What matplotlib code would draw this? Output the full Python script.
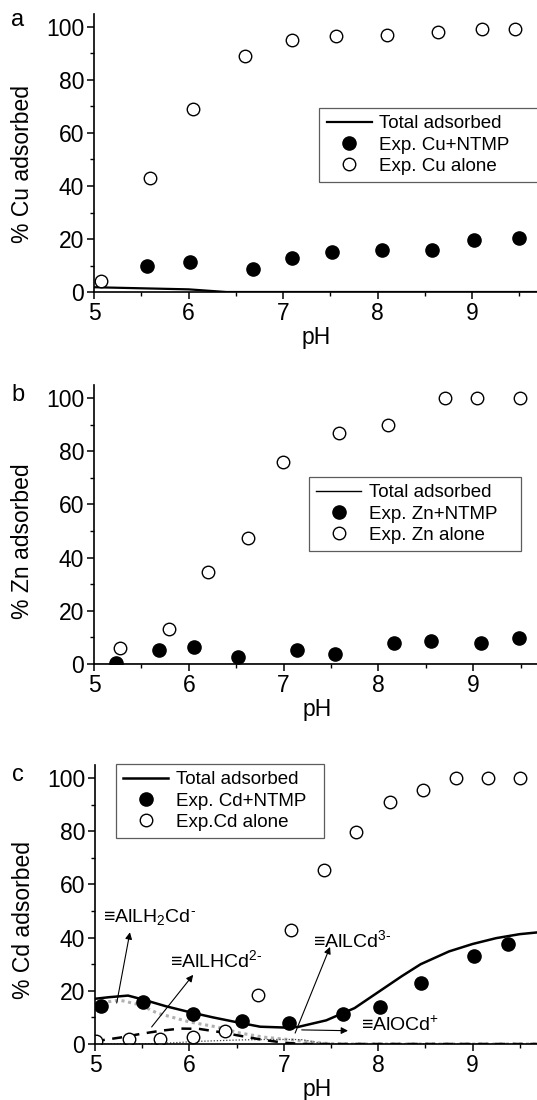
import matplotlib
matplotlib.use("Agg")
import matplotlib.pyplot as plt
from matplotlib.ticker import MultipleLocator

plt.rcParams['font.family'] = ['Liberation Sans', 'DejaVu Sans']
plt.rcParams['mathtext.fontset'] = 'custom'
plt.rcParams['mathtext.rm'] = 'Liberation Sans'
plt.rcParams['mathtext.it'] = 'Liberation Sans:italic'
plt.rcParams['mathtext.bf'] = 'Liberation Sans:bold'
plt.rcParams['mathtext.default'] = 'regular'

# ---- Panel a: Cu ----
cu_alone_ph = [5.07, 5.59, 6.05, 6.60, 7.10, 7.56, 8.10, 8.64, 9.11, 9.46]
cu_alone = [4, 43, 69, 89, 95.2, 96.6, 97, 98.1, 99.1, 99.1]
cu_ntmp_ph = [5.56, 6.02, 6.68, 7.09, 7.52, 8.05, 8.58, 9.02, 9.50]
cu_ntmp = [9.8, 11.2, 8.8, 13, 15, 15.7, 15.7, 19.5, 20.5]
cu_tot_ph = [5.0, 5.5, 6.0, 6.2, 6.4, 9.7]
cu_tot = [1.8, 1.4, 1.0, 0.5, 0.0, 0.0]

# ---- Panel b: Zn ----
zn_alone_ph = [5.27, 5.79, 6.20, 6.62, 6.99, 7.58, 8.10, 8.70, 9.04, 9.49]
zn_alone = [6.1, 13, 34.5, 47.5, 75.8, 87, 90, 100, 100, 100]
zn_ntmp_ph = [5.23, 5.69, 6.05, 6.52, 7.14, 7.54, 8.16, 8.55, 9.08, 9.48]
zn_ntmp = [0.3, 5.3, 6.3, 2.8, 5.3, 3.6, 8.0, 8.8, 7.9, 9.6]
zn_tot_ph = [5.0, 9.7]
zn_tot = [0.0, 0.0]

# ---- Panel c: Cd ----
cd_alone_ph = [5.01, 5.36, 5.69, 6.04, 6.38, 6.73, 7.08, 7.43, 7.77, 8.12, 8.47, 8.82, 9.16, 9.50]
cd_alone = [1.3, 2.0, 2.0, 2.6, 4.9, 18.3, 43, 65.4, 79.8, 90.9, 95.4, 100, 100, 100]
cd_ntmp_ph = [5.06, 5.51, 6.04, 6.56, 7.06, 7.63, 8.02, 8.45, 9.02, 9.37]
cd_ntmp = [14.2, 15.8, 11.4, 8.8, 8.0, 11.3, 13.8, 22.9, 33.1, 37.7]
cd_tot_ph = [5.0, 5.15, 5.35, 5.5, 5.75, 6.0, 6.25, 6.5, 6.75, 7.0, 7.15, 7.45, 7.75, 8.0, 8.25, 8.45, 8.75, 9.0, 9.25, 9.5, 9.7]
cd_tot = [17.0, 17.6, 18.2, 16.8, 14.2, 12.0, 10.0, 8.2, 6.5, 6.2, 6.4, 8.9, 13.5, 19.5, 25.5, 30.0, 34.8, 37.6, 39.8, 41.3, 42.0]
# species: AlLH2Cd- (grey dotted), AlLHCd2- (dashed), AlLCd3- (thin dotted)
sp1_ph = [5.0, 5.05, 5.26, 5.48, 5.66, 6.0, 6.29, 6.54, 6.78, 7.07, 7.25, 7.42, 7.6, 9.7]
sp1 = [15.0, 15.4, 16.5, 14.7, 11.6, 8.3, 6.4, 4.1, 2.6, 1.6, 0.9, 0.3, 0.0, 0.0]
sp2_ph = [5.0, 5.09, 5.3, 5.5, 5.7, 5.9, 6.1, 6.3, 6.55, 6.77, 7.0, 7.2, 9.7]
sp2 = [0.8, 1.5, 2.6, 3.9, 5.0, 5.8, 5.7, 4.6, 3.0, 1.6, 0.5, 0.0, 0.0]
sp3_ph = [5.0, 5.5, 5.8, 6.1, 6.5, 6.8, 7.1, 7.2, 7.38, 7.5, 9.7]
sp3 = [0.0, 0.0, 0.4, 1.0, 1.5, 1.7, 1.7, 1.6, 0.4, 0.0, 0.0]

fig = plt.figure(figsize=(5.37, 11.0), dpi=100)

W = 537.0
H = 1100.0


def make_axes(left_px, zero_px, unit_x, unit_y):
    width = 4.7 * unit_x
    height = 105 * unit_y
    ax = fig.add_axes([left_px / W, (H - zero_px) / H, width / W, height / H])
    ax.set_xlim(5, 9.7)
    ax.set_ylim(0, 105)
    ax.spines['top'].set_visible(False)
    ax.spines['right'].set_visible(False)
    for s in ['left', 'bottom']:
        ax.spines[s].set_linewidth(1.2)
    ax.xaxis.set_major_locator(MultipleLocator(1))
    ax.xaxis.set_minor_locator(MultipleLocator(0.5))
    ax.yaxis.set_major_locator(MultipleLocator(20))
    ax.yaxis.set_minor_locator(MultipleLocator(10))
    ax.tick_params(which='major', direction='out', length=5, width=1.1, labelsize=16.5, pad=2)
    ax.tick_params(which='minor', direction='out', length=3, width=1.0)
    ax.set_xlabel('pH', fontsize=16.5, labelpad=1)
    return ax


filled = dict(ls='none', marker='o', ms=9.5, mfc='black', mec='black', mew=1.0)
hollow = dict(ls='none', marker='o', ms=9, mfc='white', mec='black', mew=1.0)
legkw = dict(loc='upper left', mode='expand', fontsize=13.5, frameon=True, fancybox=False,
             borderaxespad=0, handlelength=2.4, handletextpad=0.4, labelspacing=0.22, borderpad=0.4)

# Panel a
axa = make_axes(94, 292, 94.5, 2.65)
axa.plot(cu_tot_ph, cu_tot, color='black', lw=1.6, label='Total adsorbed')
axa.plot(cu_ntmp_ph, cu_ntmp, label='Exp. Cu+NTMP', **filled)
axa.plot(cu_alone_ph, cu_alone, label='Exp. Cu alone', **hollow)
axa.set_ylabel('% Cu adsorbed', fontsize=16.5)
axa.yaxis.set_label_coords(-0.135, 0.46)
leg = axa.legend(bbox_to_anchor=(0.507, 0.662, 0.52, 0.0), **legkw)
leg.get_frame().set_edgecolor('#333333')
leg.get_frame().set_linewidth(0.9)

# Panel b
axb = make_axes(94, 664, 94.8, 2.66)
axb.plot(zn_tot_ph, zn_tot, color='black', lw=1.0, label='Total adsorbed')
axb.plot(zn_ntmp_ph, zn_ntmp, label='Exp. Zn+NTMP', **filled)
axb.plot(zn_alone_ph, zn_alone, label='Exp. Zn alone', **hollow)
axb.set_ylabel('% Zn adsorbed', fontsize=16.5)
axb.yaxis.set_label_coords(-0.135, 0.44)
leg = axb.legend(bbox_to_anchor=(0.4825, 0.670, 0.4755, 0.0), **legkw)
leg.get_frame().set_edgecolor('#333333')
leg.get_frame().set_linewidth(0.9)

# Panel c
axc = make_axes(95, 1044, 94.4, 2.66)
axc.plot(sp1_ph, sp1, color='#b0b0b0', lw=2.2, ls=(0, (1, 1.2)))
axc.plot(sp3_ph, sp3, color='#444444', lw=0.9, ls=(0, (1, 1.5)))
axc.plot(sp2_ph, sp2, color='black', lw=1.8, ls=(0, (4, 3)))
axc.plot(cd_tot_ph, cd_tot, color='black', lw=1.8, label='Total adsorbed')
axc.plot(cd_ntmp_ph, cd_ntmp, label='Exp. Cd+NTMP', **filled)
axc.plot(cd_alone_ph, cd_alone, label='Exp.Cd alone', **hollow)
axc.set_ylabel('% Cd adsorbed', fontsize=16.5)
axc.yaxis.set_label_coords(-0.135, 0.444)
leg = axc.legend(bbox_to_anchor=(0.047, 1.0036, 0.469, 0.0), **legkw)
leg.get_frame().set_edgecolor('#333333')
leg.get_frame().set_linewidth(0.9)

arrow = dict(arrowstyle='-|>', color='black', lw=0.8, mutation_scale=10, shrinkA=0, shrinkB=0)
axc.annotate('', xy=(5.37, 42), xytext=(5.23, 15.4), arrowprops=arrow)
axc.annotate('', xy=(6.04, 26), xytext=(5.6, 6.4), arrowprops=arrow)
axc.annotate('', xy=(7.49, 36.5), xytext=(7.12, 4.1), arrowprops=arrow)
axc.annotate('', xy=(7.68, 5.0), xytext=(7.19, 5.3), arrowprops=arrow)
lab = dict(fontsize=14, va='center', ha='left')
hy = '\u2010'
axc.text(5.09, 47.7, '\u2261AlLH$_{\\mathrm{2}}$Cd$^{\\mathrm{' + hy + '}}$', **lab)
axc.text(5.79, 31.6, '\u2261AlLHCd$^{\\mathrm{2' + hy + '}}$', **lab)
axc.text(7.31, 39.0, '\u2261AlLCd$^{\\mathrm{3' + hy + '}}$', **lab)
axc.text(7.82, 7.1, '\u2261AlOCd$^{\\mathrm{+}}$', **lab)

fig.text(18 / W, 1 - 20 / H, 'a', fontsize=17, ha='center', va='center')
fig.text(18 / W, 1 - 395 / H, 'b', fontsize=17, ha='center', va='center')
fig.text(18 / W, 1 - 775 / H, 'c', fontsize=17, ha='center', va='center')

fig.savefig('out.png', dpi=100)
